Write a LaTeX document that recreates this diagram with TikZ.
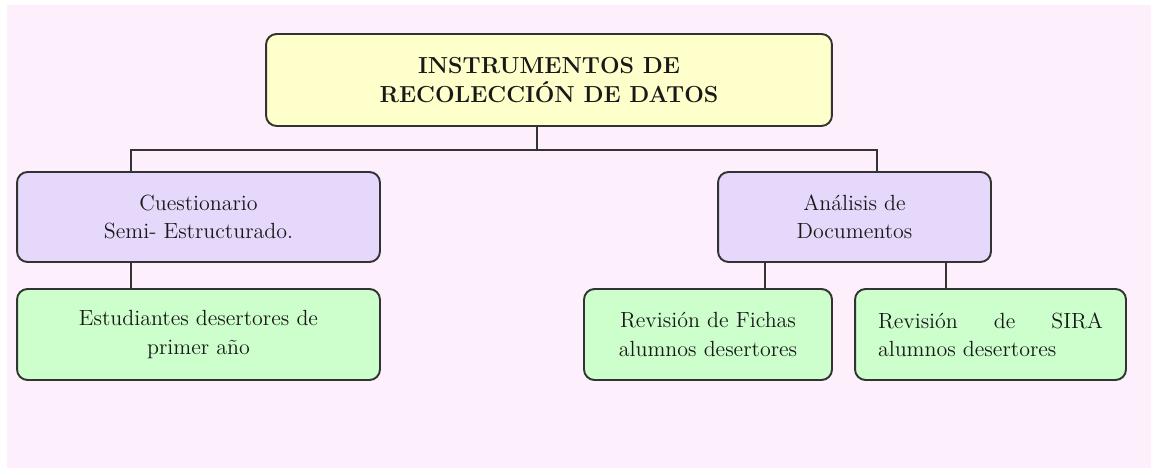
\documentclass[tikz,border=0pt]{standalone}
\usepackage{tikz}
\usetikzlibrary{positioning}

\definecolor{fondo}{HTML}{FDF0FC}
\definecolor{amarillo}{HTML}{FFFFCC}
\definecolor{lila}{HTML}{E6D8FA}
\definecolor{verde}{HTML}{CCFFCC}
\definecolor{borde}{HTML}{333333}

\tikzset{
	caja/.style = {draw = borde, line width = 1.1pt, rounded corners = 6pt,
		align = center, text = black!90, font = \fontsize{12.5}{16}\selectfont,
		inner sep = 0pt},
	titulo/.style = {caja, fill = amarillo, minimum width = 11.32cm, minimum height = 1.84cm,
		font = \fontsize{13.2}{16.5}\selectfont\bfseries},
	metodo/.style = {caja, fill = lila, minimum height = 1.8cm},
	fuente/.style = {caja, fill = verde, minimum height = 1.82cm},
	conn/.style = {draw = borde, line width = 1.1pt}
}

\begin{document}
\begin{tikzpicture}[x = 0.02cm, y = -0.02cm]
		\useasboundingbox (0,0) rectangle (1159,475);
		\fill[fondo] (7,5) rectangle (1151,468);
		\node[titulo] (datos) at (549,80) {INSTRUMENTOS DE\\RECOLECCIÓN DE DATOS};
		\node[metodo, minimum width = 7.26cm] (cuest) at (198.5,217) {Cuestionario\\Semi- Estructurado.};
		\node[metodo, minimum width = 5.46cm] (analisis) at (854.5,217) {Análisis de\\Documentos};
		\node[fuente, minimum width = 7.26cm] (estud) at (198.5,334.5) {Estudiantes desertores de\\primer año};
		\node[fuente, minimum width = 4.96cm] (fichas) at (708,334.5) {Revisión de Fichas\\alumnos desertores};
		\node[fuente, minimum width = 5.42cm, align = left] (sira) at (990.5,334.5) {\makebox[4.5cm][s]{Revisión de SIRA}\\alumnos desertores};
		\coordinate (bus) at (537,150);
		\coordinate (busL) at (131,150);
		\coordinate (busR) at (877,150);
		\coordinate (legF) at (765,0);
		\coordinate (legS) at (946,0);
		\draw[conn] (datos.south -| bus) -- (bus);
		\draw[conn] (busL |- cuest.north) -- (busL) -- (busR) -- (busR |- analisis.north);
		\draw[conn] (busL |- cuest.south) -- (busL |- estud.north);
		\draw[conn] (legF |- analisis.south) -- (legF |- fichas.north);
		\draw[conn] (legS |- analisis.south) -- (legS |- sira.north);
	\end{tikzpicture}
\end{document}
